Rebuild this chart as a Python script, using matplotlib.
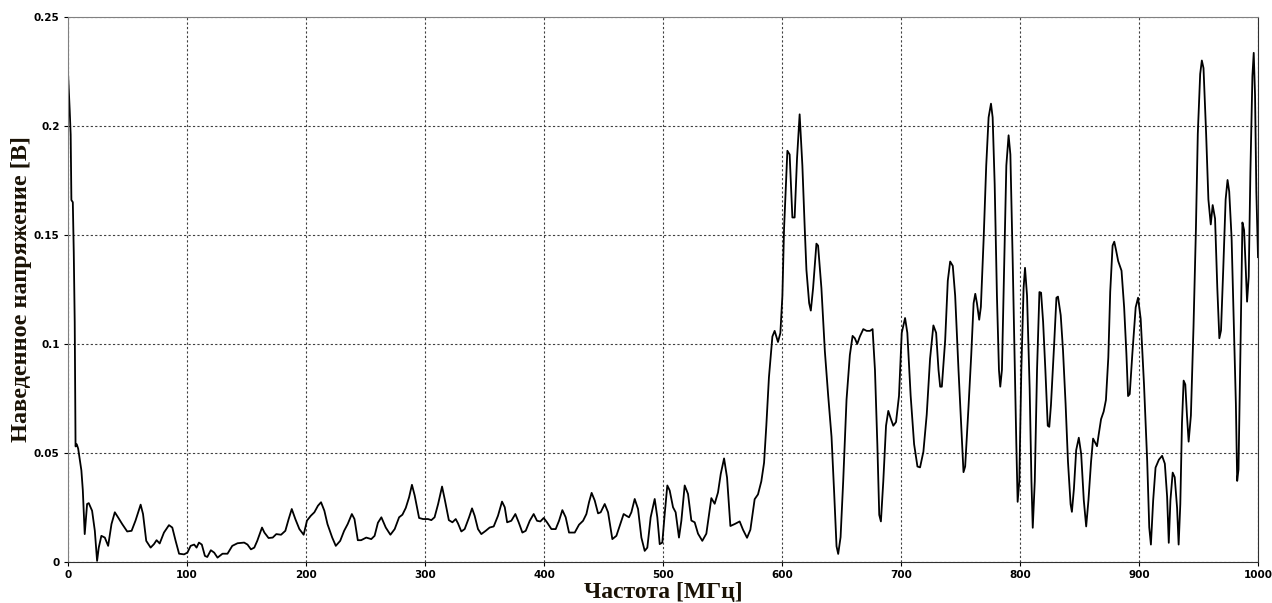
import matplotlib
matplotlib.use("Agg")
import matplotlib.pyplot as plt

freq = [
    0, 1.4, 2.2, 2.8, 4.0, 4.8, 5.6, 6.3, 7.3, 8.5, 9.6, 11.2, 12.4, 14, 16, 17.4,
    20.2, 22.5, 24.4, 25.8, 28, 30.9, 33.7, 36.5, 39.3, 42, 45.5, 49.7, 53.4, 56.7,
    61, 63, 65.7, 69.4, 72.2, 74.4, 77, 80.6, 84.8, 87.6, 90.4, 93.3, 97.5, 100.3,
    103, 106, 108, 110, 112.4, 115, 117, 120, 122.8, 125.6, 129.8, 134, 138, 142.4,
    148, 150.8, 153.7, 156.5, 159, 163, 165, 168.5, 172, 175, 179, 182.6, 185.4,
    188, 191, 194.4, 198, 200.8, 204, 207, 210, 212.6, 215.4, 218, 222, 225, 228.7,
    232, 235, 238.5, 240.7, 243.5, 246.3, 250.6, 254.8, 257.6, 260.4, 263.3, 267,
    270.9, 274.5, 278.2, 281, 283.8, 286.6, 289, 291.3, 295, 298.3, 302.5, 305.3,
    308, 311, 314.3, 316.5, 320, 323, 325.8, 327.7, 330.5, 333.3, 337, 339.5, 341.7,
    344.5, 347.3, 351, 354.3, 357.7, 361.3, 364.7, 367, 369, 372.5, 375.9, 378.7,
    381.8, 384.6, 388, 391.3, 394.1, 396.9, 399.7, 402.5, 406.2, 409.8, 412.6,
    415.4, 418.2, 421, 425.8, 429.4, 432.8, 435.6, 437.8, 440, 442.6, 445.4, 447.6,
    451, 453.8, 457.4, 460.8, 464.1, 466.9, 469.2, 471.4, 473.4, 476.2, 479, 481.8,
    484.6, 486.8, 489.6, 493, 495.2, 497.2, 499.4, 501.4, 503.6, 505.6, 508.4,
    510.6, 513.4, 515.4, 518.2, 521, 523.8, 526.6, 529.4, 533, 536.4, 540.6, 543.4,
    546.2, 548.5, 551.3, 553.8, 556.6, 560.2, 564.4, 567.2, 570.6, 573.4, 577,
    579.8, 582.6, 584.9, 586.8, 589, 591.9, 593.8, 596.6, 598.6, 600.3, 601.7,
    604.5, 606.4, 608.7, 610.6, 612.6, 614.8, 617.1, 619.1, 620.5, 622.8, 624.2,
    626.1, 628.9, 630.3, 633.1, 636, 638.8, 641.6, 643.8, 645.8, 647.2, 649.2,
    651.4, 654.2, 657, 659.3, 661.2, 663.2, 665.4, 668.3, 671.1, 673.9, 676.1,
    678.1, 680.1, 681.7, 683.1, 685.1, 687.4, 689.3, 691.3, 693.5, 695.8, 698.3,
    700.6, 703.4, 705.3, 708.1, 711, 713.8, 716, 718.8, 721.6, 724.4, 727.2, 729.5,
    731.5, 732.9, 734.3, 737.1, 739.3, 741.3, 743.5, 745.5, 748.3, 750.6, 752.5,
    753.9, 756.7, 759, 761, 762.4, 763.8, 765.7, 767.1, 769.4, 771.6, 773.6, 775.6,
    777, 778.7, 780.6, 782.3, 783.4, 784.8, 786.8, 788.5, 790.4, 791.9, 793.8,
    795.5, 796.9, 798, 799.4, 801.1, 803, 804.2, 805.9, 808.1, 809.6, 810.7, 812.4,
    814.3, 816.3, 817.7, 819.4, 821.3, 823.3, 824.6, 826, 828.6, 830.6, 831.9,
    834.2, 836.1, 838.3, 840.3, 842.5, 843.6, 845.3, 847.2, 849.4, 851.4, 853.6,
    855.6, 857.5, 859.7, 861.4, 863.1, 864.7, 866.1, 868.1, 870.3, 872.2, 874.2,
    875.8, 877.8, 879.2, 880.6, 882.5, 885.3, 887.5, 889.4, 890.8, 892.2, 894.4,
    897.2, 899.2, 901.4, 904.2, 906.9, 908.6, 910, 911.9, 913.9, 916.7, 919.4,
    921.7, 923.6, 925, 926.4, 928.3, 930, 932, 933.3, 934.7, 936.1, 937.5, 938.9,
    940.3, 941.7, 943.6, 945.8, 947.8, 949.4, 951.4, 952.8, 954.2, 956.4, 958.3,
    960.3, 961.9, 963.9, 965.8, 967.5, 968.9, 970.8, 972.8, 974.4, 975.8, 977.8,
    979.7, 981.4, 982.5, 983.6, 985.3, 986.9, 988.3, 989.7, 990.8, 992.2, 993.6,
    995.3, 996.4, 997.5, 998.6, 1000,
]

voltage = [
    0.224, 0.207, 0.196, 0.166, 0.165, 0.142, 0.11, 0.053, 0.054, 0.052, 0.048,
    0.042, 0.033, 0.0128, 0.0266, 0.027, 0.0235, 0.0143, 0.0005, 0.0066, 0.012,
    0.0112, 0.0074, 0.0174, 0.0228, 0.0205, 0.0174, 0.014, 0.0143, 0.019, 0.0263,
    0.022, 0.0097, 0.0066, 0.0082, 0.01, 0.0085, 0.0135, 0.0169, 0.0158, 0.0097,
    0.0038, 0.0035, 0.0043, 0.0074, 0.008, 0.0066, 0.0089, 0.008, 0.0028, 0.0023,
    0.0054, 0.0043, 0.002, 0.0038, 0.0038, 0.0074, 0.0086, 0.0089, 0.008, 0.0058,
    0.0066, 0.0097, 0.0158, 0.0135, 0.011, 0.0112, 0.0128, 0.0125, 0.0143, 0.0197,
    0.0243, 0.0197, 0.0151, 0.0125, 0.019, 0.0212, 0.0228, 0.0258, 0.0274, 0.0235,
    0.0174, 0.0112, 0.0074, 0.0097, 0.0143, 0.0174, 0.022, 0.0197, 0.01, 0.01,
    0.0112, 0.0105, 0.012, 0.018, 0.0205, 0.0158, 0.0125, 0.0151, 0.0205, 0.0217,
    0.0248, 0.0297, 0.0354, 0.0305, 0.0202, 0.0197, 0.0197, 0.0192, 0.0205, 0.0266,
    0.0346, 0.0289, 0.0192, 0.0182, 0.0197, 0.0177, 0.014, 0.0151, 0.0205, 0.0246,
    0.0212, 0.0151, 0.0128, 0.0143, 0.0158, 0.0163, 0.0212, 0.0277, 0.0251, 0.0182,
    0.0189, 0.022, 0.0182, 0.0135, 0.0143, 0.0189, 0.022, 0.0189, 0.0186, 0.0202,
    0.0182, 0.0151, 0.0151, 0.0189, 0.0238, 0.0205, 0.0135, 0.0135, 0.0171, 0.0189,
    0.022, 0.0274, 0.0317, 0.0282, 0.0223, 0.0228, 0.0266, 0.0228, 0.0105, 0.012,
    0.0174, 0.022, 0.0212, 0.0205, 0.0228, 0.0289, 0.0243, 0.0112, 0.0051, 0.0066,
    0.0205, 0.0289, 0.0205, 0.0082, 0.0089, 0.022, 0.0351, 0.0328, 0.0251, 0.0228,
    0.0112, 0.0189, 0.0351, 0.0312, 0.019, 0.0182, 0.013, 0.0097, 0.013, 0.0293,
    0.0267, 0.0319, 0.0404, 0.0475, 0.0387, 0.0165, 0.0174, 0.0186, 0.0148, 0.0111,
    0.0148, 0.0288, 0.031, 0.037, 0.0455, 0.0625, 0.0847, 0.1034, 0.106, 0.1009,
    0.105, 0.122, 0.1528, 0.1886, 0.1869, 0.158, 0.158, 0.185, 0.2053, 0.1818,
    0.1528, 0.134, 0.1187, 0.1153, 0.1256, 0.146, 0.1451, 0.1256, 0.0966, 0.0762,
    0.0574, 0.0319, 0.0072, 0.0037, 0.0114, 0.037, 0.0744, 0.0949, 0.1037, 0.1026,
    0.1, 0.1034, 0.1068, 0.106, 0.106, 0.1068, 0.0881, 0.054, 0.0216, 0.0186,
    0.037, 0.0625, 0.0693, 0.0659, 0.0625, 0.0642, 0.0762, 0.1051, 0.1119, 0.1051,
    0.0762, 0.054, 0.0438, 0.0434, 0.0506, 0.0676, 0.0932, 0.1085, 0.1051, 0.0881,
    0.0804, 0.0804, 0.1017, 0.129, 0.1378, 0.1358, 0.1221, 0.0881, 0.0625, 0.0412,
    0.0438, 0.071, 0.0949, 0.1187, 0.123, 0.1187, 0.1111, 0.117, 0.1477, 0.1818,
    0.2039, 0.2102, 0.2039, 0.1733, 0.1221, 0.0881, 0.0804, 0.0881, 0.1392, 0.1818,
    0.1957, 0.1869, 0.1392, 0.0915, 0.054, 0.0276, 0.037, 0.0881, 0.1256, 0.1349,
    0.1221, 0.0796, 0.037, 0.0157, 0.037, 0.0881, 0.1238, 0.1235, 0.1102, 0.0881,
    0.0625, 0.062, 0.072, 0.099, 0.1212, 0.1217, 0.1132, 0.0973, 0.0725, 0.046,
    0.0265, 0.023, 0.0336, 0.0513, 0.057, 0.0495, 0.0283, 0.0163, 0.0283, 0.046,
    0.0566, 0.0548, 0.0531, 0.0584, 0.0655, 0.069, 0.0743, 0.0938, 0.1239, 0.1451,
    0.1469, 0.1433, 0.138, 0.1336, 0.1168, 0.0955, 0.0761, 0.077, 0.0955, 0.1168,
    0.1212, 0.1115, 0.0814, 0.046, 0.0159, 0.008, 0.0283, 0.0433, 0.0469, 0.0487,
    0.0451, 0.0301, 0.0088, 0.0283, 0.041, 0.0389, 0.0248, 0.008, 0.0265, 0.0637,
    0.0832, 0.0814, 0.0672, 0.0552, 0.0672, 0.1079, 0.1522, 0.1964, 0.2238, 0.23,
    0.2265, 0.1964, 0.1663, 0.1548, 0.1637, 0.1575, 0.1256, 0.1026, 0.1062, 0.1345,
    0.1663, 0.1752, 0.1699, 0.1486, 0.1079, 0.0725, 0.0372, 0.0425, 0.0991, 0.1557,
    0.1522, 0.1345, 0.1194, 0.1309, 0.1787, 0.2229, 0.2335, 0.2141, 0.1699, 0.1398,
]

x_ticks = [0, 100, 200, 300, 400, 500, 600, 700, 800, 900, 1000]
y_ticks = [0, 0.05, 0.1, 0.15, 0.2, 0.25]
y_tick_labels = ["0", "0.05", "0.1", "0.15", "0.2", "0.25"]

fig = plt.figure(figsize=(12.72, 6.03), dpi=100)
ax = fig.add_axes([0.0535, 0.068, 0.9355, 0.904])

ax.plot(freq, voltage, color="black", linewidth=1.3)

ax.set_xlim(0, 1000)
ax.set_ylim(0, 0.25)
ax.set_xticks(x_ticks)
ax.set_yticks(y_ticks)
ax.set_yticklabels(y_tick_labels)
ax.tick_params(length=3, width=0.8, labelsize=7.5, pad=3)
for lbl in ax.get_xticklabels() + ax.get_yticklabels():
    lbl.set_fontweight("bold")

ax.grid(True, color="#404040", linestyle=(0, (2, 2)), linewidth=0.8)

ax.spines["left"].set_color("#808080")
ax.spines["top"].set_color("#808080")
ax.spines["right"].set_color("#303030")
ax.spines["bottom"].set_color("#303030")

# axis titles placed where the original puts them
fig.text(663 / 1272, 1 - 592 / 603, "Частота [МГц]", fontsize=17,
         fontweight="bold", family="Liberation Serif", color="#1a1205",
         ha="center", va="center")
fig.text(22 / 1272, 1 - 289 / 603, "Наведенное напряжение [В]", fontsize=17.5,
         fontweight="bold", family="Liberation Serif", color="#1a1205",
         ha="center", va="center", rotation=90)

fig.savefig("out.png", dpi=100)
